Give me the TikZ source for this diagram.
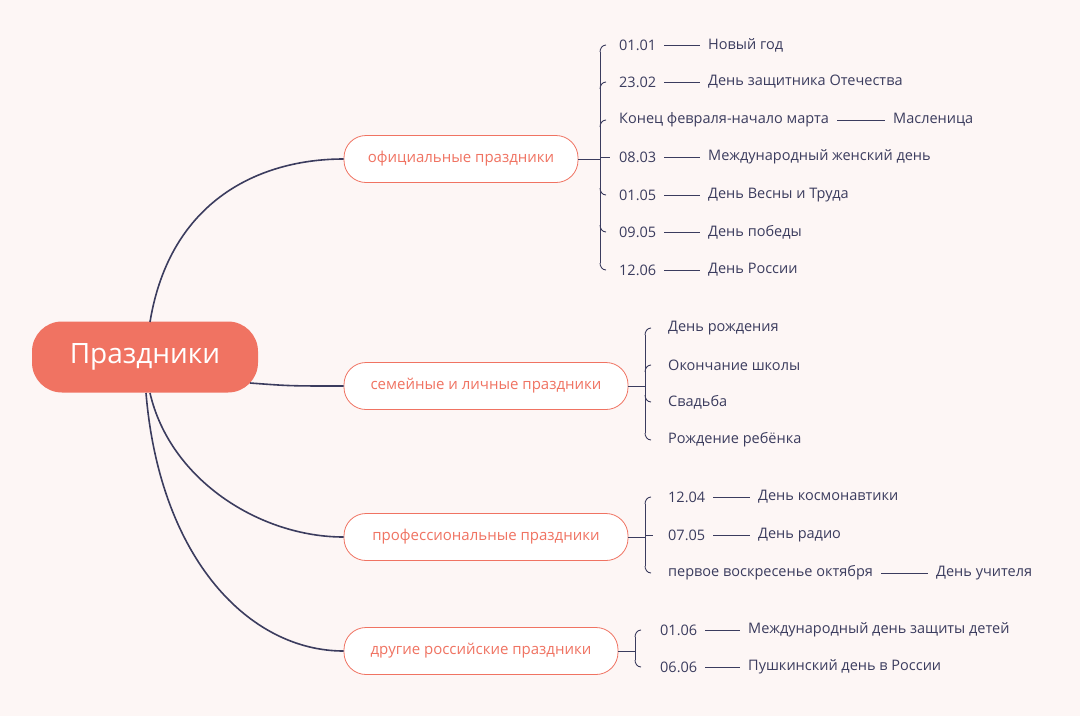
\documentclass[tikz,border=0pt]{standalone}
\usepackage{fontspec}
\setmainfont{Open Sans}
\begin{document}
\begin{tikzpicture}[x=1pt,y=-1pt,
  root/.style={fill=rootc,rounded corners=30pt,minimum width=226pt,minimum height=71pt,text=white,font=\fontsize{28}{30}\selectfont},
  br/.style={draw=rootc,fill=white,rounded corners=22pt,minimum height=47pt,text=rootc,font=\fontsize{15}{17}\selectfont,line width=0.8pt},
  lf/.style={anchor=west,text=ink,font=\fontsize{14.5}{16}\selectfont,inner sep=0pt},
  cn/.style={draw=ink,line width=1.6pt},
  bk/.style={draw=ink,line width=0.9pt},
  ds/.style={draw=ink,line width=0.8pt,shorten <=8pt,shorten >=8pt}]
\definecolor{rootc}{HTML}{F07362}
\definecolor{ink}{HTML}{3B3C5E}
\definecolor{bg}{HTML}{FDF6F5}
\fill[bg] (0,0) rectangle (1080,716);
\useasboundingbox (0,0) rectangle (1080,716);
\node[root] (R) at (145,357) {Праздники};
\node[br,minimum width=234pt] (B1) at (461,159) {официальные праздники};
\node[br,minimum width=284pt] (B2) at (486,386) {семейные и личные праздники};
\node[br,minimum width=284pt] (B3) at (486,537) {профессиональные праздники};
\node[br,minimum width=274pt] (B4) at (481,651) {другие российские праздники};
\coordinate (r1) at (150,322); \coordinate (r2) at (250,383); \coordinate (r3) at (150,393); \coordinate (r4) at (146,393);
\draw[cn] (r1) .. controls (170,200) and (260,159) .. (B1.west);
\draw[cn] (r2) .. controls (290,386) .. (B2.west);
\draw[cn] (r3) .. controls (170,480) and (260,537) .. (B3.west);
\draw[cn] (r4) .. controls (160,560) and (250,651) .. (B4.west);
% official
\coordinate (k1) at (600,159);
\draw[bk] (B1.east) -- (k1);
\draw[bk] (600,52) -- (600,263);
\foreach \y in {45,82,120} \draw[bk] (600,\y+7) to[out=90,in=180] (606,\y);
\foreach \y in {195,232,270} \draw[bk] (600,\y-7) to[out=-90,in=180] (606,\y);
\draw[bk] (600,157) -- (610,157);
\node[lf] (a1) at (619,45) {01.01}; \node[lf] (b1) at (708,45) {Новый год}; \draw[ds] (a1) -- (b1);
\node[lf] (a2) at (619,82) {23.02}; \node[lf] (b2) at (708,82) {День защитника Отечества}; \draw[ds] (a2) -- (b2);
\node[lf] (a3) at (619,120) {Конец февраля-начало марта}; \node[lf] (b3) at (893,120) {Масленица}; \draw[ds] (a3) -- (b3);
\node[lf] (a4) at (619,157) {08.03}; \node[lf] (b4) at (708,157) {Международный женский день}; \draw[ds] (a4) -- (b4);
\node[lf] (a5) at (619,195) {01.05}; \node[lf] (b5) at (708,195) {День Весны и Труда}; \draw[ds] (a5) -- (b5);
\node[lf] (a6) at (619,232) {09.05}; \node[lf] (b6) at (708,232) {День победы}; \draw[ds] (a6) -- (b6);
\node[lf] (a7) at (619,270) {12.06}; \node[lf] (b7) at (708,270) {День России}; \draw[ds] (a7) -- (b7);
% family
\draw[bk] (B2.east) -- (645,386);
\draw[bk] (645,335) -- (645,433);
\foreach \y in {328,365} \draw[bk] (645,\y+7) to[out=90,in=180] (651,\y);
\foreach \y in {402,440} \draw[bk] (645,\y-7) to[out=-90,in=180] (651,\y);
\node[lf] (c1) at (668,328) {День рождения};
\node[lf] (c2) at (668,365) {Окончание школы};
\node[lf] (c3) at (668,402) {Свадьба};
\node[lf] (c4) at (668,440) {Рождение ребёнка};
% professional
\draw[bk] (B3.east) -- (645,537);
\draw[bk] (645,504) -- (645,566);
\draw[bk] (645,504) to[out=90,in=180] (651,497);
\draw[bk] (645,535) -- (653,535);
\draw[bk] (645,566) to[out=-90,in=180] (651,573);
\node[lf] (d1) at (668,497) {12.04}; \node[lf] (e1) at (758,497) {День космонавтики}; \draw[ds] (d1) -- (e1);
\node[lf] (d2) at (668,535) {07.05}; \node[lf] (e2) at (758,535) {День радио}; \draw[ds] (d2) -- (e2);
\node[lf] (d3) at (668,573) {первое воскресенье октября}; \node[lf] (e3) at (936,573) {День учителя}; \draw[ds] (d3) -- (e3);
% other
\draw[bk] (B4.east) -- (635,651);
\draw[bk] (635,637) -- (635,660);
\draw[bk] (635,637) to[out=90,in=180] (641,630);
\draw[bk] (635,660) to[out=-90,in=180] (641,667);
\node[lf] (f1) at (660,630) {01.06}; \node[lf] (g1) at (748,630) {Международный день защиты детей}; \draw[ds] (f1) -- (g1);
\node[lf] (f2) at (660,667) {06.06}; \node[lf] (g2) at (748,667) {Пушкинский день в России}; \draw[ds] (f2) -- (g2);
\end{tikzpicture}
\end{document}
